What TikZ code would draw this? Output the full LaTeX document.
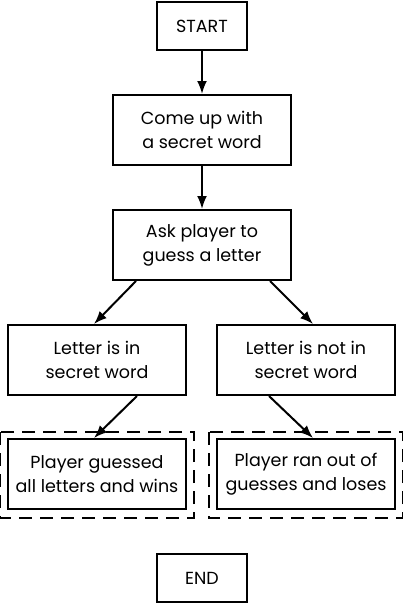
\documentclass[tikz,border=0pt]{standalone}
\usepackage{fontspec}
\setmainfont{Poppins}
\usetikzlibrary{arrows.meta}
\tikzset{>={Latex[length=13pt,width=10pt]}}
\tikzstyle{stepbox}=[draw,line width=2pt,minimum width=178pt,minimum height=70pt,align=center,inner sep=0pt]
\tikzstyle{endbox}=[draw,line width=2pt,minimum width=90pt,minimum height=48pt,inner sep=0pt]
\tikzstyle{flow}=[->,line width=2pt]
\tikzstyle{outcome}=[line width=2pt,dash pattern=on 13pt off 8pt]

\begin{document}
\begin{tikzpicture}[x=1pt,y=-1pt,font=\fontsize{17.5}{24}\selectfont]
  \useasboundingbox (0,0) rectangle (403,605);
  \node[endbox] (start) at (202,26) {START};
  \node[stepbox] (secret) at (202,130) {Come up with\\a secret word};
  \node[stepbox] (guess) at (202,245) {Ask player to\\guess a letter};
  \node[stepbox] (hit) at (97,360) {Letter is in\\secret word};
  \node[stepbox] (miss) at (306,360) {Letter is not in\\secret word};
  \node[stepbox] (win) at (97,474) {Player guessed\\all letters and wins};
  \node[stepbox] (lose) at (306,474) {Player ran out of\\guesses and loses};
  \node[endbox] (end) at (202,578) {END};
  % dashed frames round the two outcomes
  \draw[outcome] ([shift={(-7,-6)}]win.north west) rectangle ([shift={(7,8)}]win.south east);
  \draw[outcome] ([shift={(-7,-6)}]lose.north west) rectangle ([shift={(7,8)}]lose.south east);
  \draw[flow] (start) -- (secret);
  \draw[flow] (secret) -- (guess);
  \draw[flow] ([xshift=24]guess.south west) -- ([xshift=-3]hit.north);
  \draw[flow] ([xshift=-22]guess.south east) -- ([xshift=7]miss.north);
  \draw[flow] ([xshift=40]hit.south) -- ([xshift=-3]win.north);
  \draw[flow] ([xshift=-37]miss.south) -- ([xshift=7]lose.north);
\end{tikzpicture}
\end{document}
